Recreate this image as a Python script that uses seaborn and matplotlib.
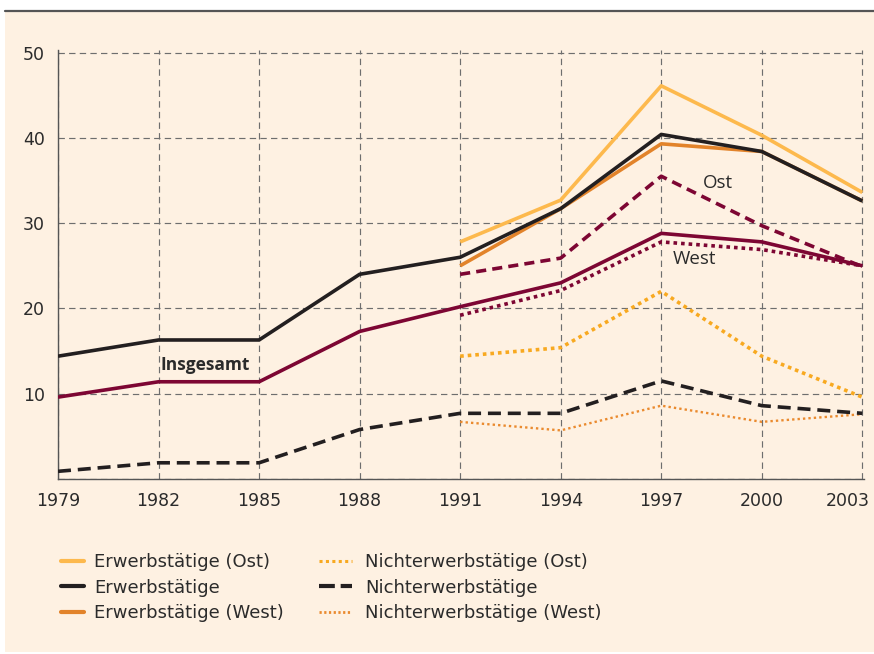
import matplotlib
matplotlib.use("Agg")
import matplotlib.pyplot as plt
import seaborn as sns
from matplotlib.patches import Rectangle
from matplotlib.lines import Line2D
from matplotlib.transforms import ScaledTranslation

# data
years = [1979, 1982, 1985, 1988, 1991, 1994, 1997, 2000, 2003]
years_split = [1991, 1994, 1997, 2000, 2003]

erwerbstaetige = [14.4, 16.3, 16.3, 24.0, 26.0, 31.7, 40.4, 38.4, 32.6]
insgesamt = [9.6, 11.4, 11.4, 17.3, 20.2, 23.0, 28.8, 27.8, 25.0]
nichterwerbstaetige = [0.9, 1.9, 1.9, 5.8, 7.7, 7.7, 11.5, 8.6, 7.7]

erwerbstaetige_ost = [27.8, 32.7, 46.1, 40.3, 33.6]
erwerbstaetige_west = [25.0, 31.7, 39.3, 38.4, 32.6]
insgesamt_ost = [24.0, 25.9, 35.5, 29.7, 24.9]
insgesamt_west = [19.2, 22.1, 27.8, 26.9, 25.0]
nichterwerbstaetige_ost = [14.4, 15.4, 22.0, 14.4, 9.6]
nichterwerbstaetige_west = [6.7, 5.7, 8.6, 6.7, 7.6]

y_ticks = [0, 10, 20, 30, 40, 50]
y_labels = ["", "10", "20", "30", "40", "50"]

legend_left = ["Erwerbstätige (Ost)", "Erwerbstätige", "Erwerbstätige (West)"]
legend_right = ["Nichterwerbstätige (Ost)", "Nichterwerbstätige", "Nichterwerbstätige (West)"]

# colours
CREAM = "#FEF1E2"
YELLOW = "#FDB94D"
ORANGE = "#E2832A"
BLACK = "#231F20"
CRIMSON = "#7D0633"
YELLOW_DOT = "#F8A920"
ORANGE_DOT = "#EA8A2E"
GRID = "#6E6E6E"
TEXT = "#2B2B2B"

sns.set_style("white")
plt.rcParams["font.family"] = ["DejaVu Sans"]

W, H = 874, 654
fig = plt.figure(figsize=(W / 100, H / 100), dpi=100, facecolor="white")

# cream panel and top rule
fig.patches.append(Rectangle((5 / W, 2 / H), 1, 1 - 14 / H, transform=fig.transFigure,
                             facecolor=CREAM, edgecolor="none", zorder=-10))
fig.lines.append(Line2D([5 / W, 1], [1 - 11 / H, 1 - 11 / H], transform=fig.transFigure,
                        color="#555555", linewidth=1.6))

ax = fig.add_axes([58 / W, 1 - 479 / H, (864 - 58) / W, (479 - 50) / H])
ax.set_facecolor("none")

solid = "-"
dash_black = (0, (3.6, 1.9))
dash_crimson = (0, (2.8, 1.7))
dots = (0, (1, 1.1))
dots_fine = (0, (1, 1.3))


def draw(x, y, color, lw, ls, z):
    sns.lineplot(x=x, y=y, ax=ax, color=color, linewidth=lw, linestyle=ls,
                 dash_capstyle="butt", solid_capstyle="butt", zorder=z)


draw(years_split, erwerbstaetige_west, ORANGE, 2.6, solid, 3)
draw(years_split, erwerbstaetige_ost, YELLOW, 2.6, solid, 3)
draw(years, erwerbstaetige, BLACK, 2.6, solid, 4)
draw(years_split, insgesamt_west, CRIMSON, 2.6, dots, 3)
draw(years_split, insgesamt_ost, CRIMSON, 2.6, dash_crimson, 3)
draw(years, insgesamt, CRIMSON, 2.6, solid, 4)
draw(years_split, nichterwerbstaetige_ost, YELLOW_DOT, 2.6, dots, 3)
draw(years_split, nichterwerbstaetige_west, ORANGE_DOT, 1.7, dots_fine, 3)
draw(years, nichterwerbstaetige, BLACK, 2.6, dash_black, 4)

ax.set_xlim(1979, 2003.05)
ax.set_ylim(0, 50.3)
ax.set_xticks(years)
ax.set_xticklabels([str(y) for y in years])
ax.set_yticks(y_ticks)
ax.set_yticklabels(y_labels)
ax.set_xlabel("")
ax.set_ylabel("")

ax.grid(True, color=GRID, linewidth=0.85, linestyle=(0, (5.4, 3.6)), zorder=0)
for s in ["top", "right"]:
    ax.spines[s].set_visible(False)
for s in ["left", "bottom"]:
    ax.spines[s].set_color("#555555")
    ax.spines[s].set_linewidth(1.0)
ax.tick_params(axis="both", direction="out", length=4.5, width=1.0, color="#555555",
               labelsize=12.5, labelcolor=TEXT, pad=5)

# keep the last year label inside the panel
last = ax.get_xticklabels()[-1]
last.set_transform(last.get_transform() + ScaledTranslation(-15 / 100, 0, fig.dpi_scale_trans))

# in-plot labels
ax.text(1983.4, 13.4, "Insgesamt", fontsize=12.5, fontweight="bold", color=TEXT,
        ha="center", va="center", family=["Open Sans", "DejaVu Sans"])
ax.text(1998.7, 34.7, "Ost", fontsize=13.5, color=TEXT, ha="center", va="center",
        family=["Open Sans", "DejaVu Sans"])
ax.text(1998.0, 25.8, "West", fontsize=13.5, color=TEXT, ha="center", va="center",
        family=["Open Sans", "DejaVu Sans"])

# legends
left_handles = [
    Line2D([], [], color=YELLOW, linewidth=3),
    Line2D([], [], color=BLACK, linewidth=3),
    Line2D([], [], color=ORANGE, linewidth=3),
]
right_handles = [
    Line2D([], [], color=YELLOW_DOT, linewidth=2.2, linestyle=(0, (1, 1.1)), dash_capstyle="butt"),
    Line2D([], [], color=BLACK, linewidth=3, linestyle=(0, (3.8, 1.4)), dash_capstyle="butt"),
    Line2D([], [], color=ORANGE_DOT, linewidth=2.0, linestyle=(0, (0.8, 0.9)), dash_capstyle="butt"),
]
common = dict(loc="upper left", frameon=False, fontsize=13, borderpad=0,
              borderaxespad=0, labelspacing=0.42, labelcolor=TEXT)
fig.legend(left_handles, legend_left, bbox_to_anchor=(61 / W, 1 - 553 / H),
           handlelength=1.3, handletextpad=0.55, **common)
fig.legend(right_handles, legend_right, bbox_to_anchor=(319 / W, 1 - 553 / H),
           handlelength=1.85, handletextpad=0.7, **common)

fig.savefig("out.png", dpi=100, facecolor=fig.get_facecolor())
